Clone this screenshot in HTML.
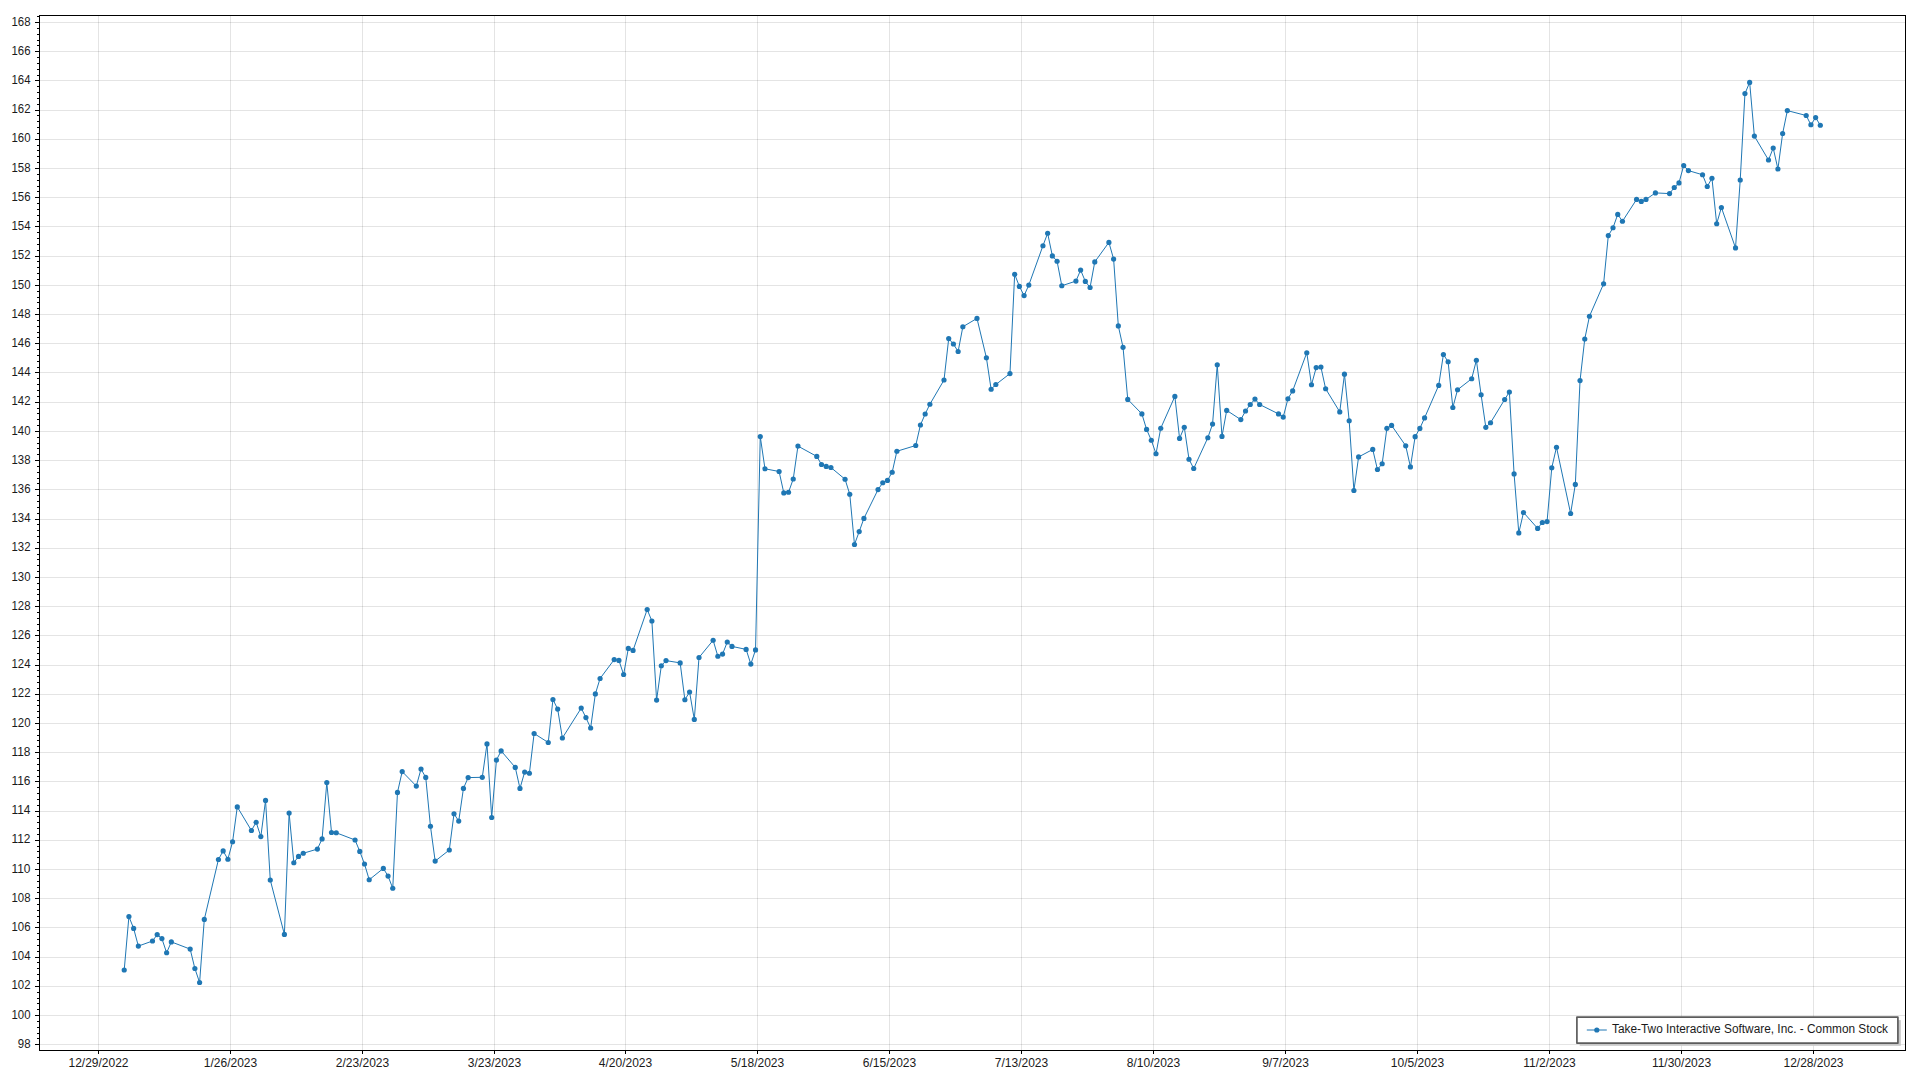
<!DOCTYPE html>
<html lang="en"><head><meta charset="utf-8"><title>Take-Two Interactive Software, Inc. - Common Stock</title>
<style>html,body{margin:0;padding:0;background:#fff;overflow:hidden}svg{display:block}text{font-family:"Liberation Sans",Arial,sans-serif;font-size:12px;fill:#1a1a1a}</style></head><body>
<svg width="1920" height="1080" viewBox="0 0 1920 1080">
<rect width="1920" height="1080" fill="#fff"/>
<path d="M40.0 1044.5H1905.0M40.0 1015.5H1905.0M40.0 986.5H1905.0M40.0 957.5H1905.0M40.0 927.5H1905.0M40.0 898.5H1905.0M40.0 869.5H1905.0M40.0 840.5H1905.0M40.0 811.5H1905.0M40.0 781.5H1905.0M40.0 752.5H1905.0M40.0 723.5H1905.0M40.0 694.5H1905.0M40.0 665.5H1905.0M40.0 635.5H1905.0M40.0 606.5H1905.0M40.0 577.5H1905.0M40.0 548.5H1905.0M40.0 519.5H1905.0M40.0 489.5H1905.0M40.0 460.5H1905.0M40.0 431.5H1905.0M40.0 402.5H1905.0M40.0 372.5H1905.0M40.0 343.5H1905.0M40.0 314.5H1905.0M40.0 285.5H1905.0M40.0 256.5H1905.0M40.0 226.5H1905.0M40.0 197.5H1905.0M40.0 168.5H1905.0M40.0 139.5H1905.0M40.0 110.5H1905.0M40.0 80.5H1905.0M40.0 51.5H1905.0M40.0 22.5H1905.0" stroke="rgba(0,0,0,0.105)" stroke-width="1" fill="none" shape-rendering="crispEdges"/>
<path d="M98.5 16.0V1050.0M230.5 16.0V1050.0M362.5 16.0V1050.0M494.5 16.0V1050.0M625.5 16.0V1050.0M757.5 16.0V1050.0M889.5 16.0V1050.0M1021.5 16.0V1050.0M1153.5 16.0V1050.0M1285.5 16.0V1050.0M1417.5 16.0V1050.0M1549.5 16.0V1050.0M1681.5 16.0V1050.0M1813.5 16.0V1050.0" stroke="rgba(0,0,0,0.105)" stroke-width="1" fill="none" shape-rendering="crispEdges"/>
<polyline points="124.21,970.00 128.92,916.60 133.64,928.40 138.35,946.10 152.48,941.00 157.19,934.60 161.90,938.60 166.62,952.75 171.33,941.90 190.17,949.10 194.88,968.50 199.60,982.50 204.31,919.40 218.44,859.50 223.15,850.90 227.86,859.25 232.58,841.75 237.29,806.90 251.42,830.50 256.13,822.25 260.84,836.60 265.56,800.40 270.27,880.00 284.40,934.40 289.11,813.10 293.82,862.75 298.54,856.40 303.25,853.25 317.38,849.10 322.09,838.90 326.80,782.50 331.52,832.50 336.23,832.75 355.07,840.00 359.78,851.40 364.50,864.00 369.21,879.75 383.34,868.40 388.05,876.10 392.76,888.25 397.48,792.40 402.19,771.60 416.32,786.05 421.03,769.00 425.74,777.40 430.46,826.25 435.17,861.10 449.30,850.00 454.01,813.75 458.72,821.10 463.44,788.40 468.15,777.60 482.28,777.30 486.99,743.90 491.70,817.50 496.42,760.10 501.13,750.90 515.26,767.40 519.97,788.40 524.68,772.05 529.40,773.25 534.11,733.50 548.24,742.50 552.95,699.50 557.66,709.10 562.38,738.00 581.22,708.10 585.93,717.60 590.64,728.00 595.36,693.90 600.07,678.50 614.20,659.60 618.91,660.40 623.62,674.50 628.34,648.40 633.05,650.40 647.18,609.50 651.89,621.00 656.60,700.10 661.32,665.75 666.03,660.60 680.16,662.90 684.87,699.75 689.58,692.00 694.30,719.40 699.01,657.50 713.14,640.25 717.85,656.25 722.56,654.10 727.28,642.00 731.99,646.40 746.12,649.40 750.83,664.10 755.54,649.90 760.26,436.60 764.97,468.75 779.10,471.50 783.81,492.90 788.52,492.25 793.24,479.00 797.95,446.10 816.79,456.40 821.50,464.50 826.22,466.40 830.93,467.50 845.06,479.25 849.77,494.25 854.48,544.50 859.20,531.60 863.91,518.40 878.04,489.60 882.75,482.75 887.46,480.40 892.18,472.25 896.89,451.25 915.73,445.50 920.44,425.00 925.16,414.00 929.87,404.25 944.00,380.00 948.71,338.60 953.42,344.00 958.14,351.50 962.85,326.75 976.98,318.40 986.40,357.75 991.12,389.25 995.83,384.50 1009.96,373.60 1014.67,274.25 1019.38,286.40 1024.10,295.60 1028.81,285.10 1042.94,245.75 1047.65,233.25 1052.36,255.90 1057.08,261.25 1061.79,285.75 1075.92,281.10 1080.63,270.10 1085.34,281.40 1090.06,287.50 1094.77,261.90 1108.90,242.40 1113.61,259.10 1118.32,325.90 1123.04,347.30 1127.75,399.40 1141.88,413.90 1146.59,429.40 1151.30,440.25 1156.02,453.75 1160.73,428.25 1174.86,396.40 1179.57,438.40 1184.28,427.25 1189.00,459.25 1193.71,468.50 1207.84,437.75 1212.55,424.10 1217.26,364.75 1221.98,436.40 1226.69,410.40 1240.82,419.60 1245.53,411.00 1250.24,404.50 1254.96,399.10 1259.67,404.50 1278.51,413.90 1283.22,417.10 1287.94,398.75 1292.65,390.90 1306.78,352.75 1311.49,384.75 1316.20,367.60 1320.92,367.00 1325.63,388.75 1339.76,411.90 1344.47,374.20 1349.18,420.75 1353.90,490.50 1358.61,456.95 1372.74,449.45 1377.45,469.50 1382.16,463.75 1386.88,428.30 1391.59,425.40 1405.72,445.80 1410.43,466.95 1415.14,436.70 1419.86,428.40 1424.57,417.90 1438.70,385.40 1443.41,354.50 1448.12,361.75 1452.84,407.50 1457.55,389.75 1471.68,378.75 1476.39,360.25 1481.10,394.75 1485.82,427.30 1490.53,422.75 1504.66,399.50 1509.37,392.00 1514.08,473.95 1518.80,532.90 1523.51,512.50 1537.64,528.40 1542.35,522.50 1547.06,521.60 1551.78,467.75 1556.49,447.25 1570.62,513.50 1575.33,484.40 1580.04,380.60 1584.76,339.00 1589.47,316.25 1603.60,283.80 1608.31,235.60 1613.02,227.75 1617.74,214.40 1622.45,221.25 1636.58,199.40 1641.29,201.40 1646.00,199.40 1655.43,192.90 1669.56,193.60 1674.27,187.50 1678.98,182.90 1683.70,165.50 1688.41,170.60 1702.54,174.75 1707.25,186.50 1711.96,178.25 1716.68,223.75 1721.39,207.50 1735.52,247.90 1740.23,180.00 1744.94,93.60 1749.66,82.40 1754.37,136.10 1768.50,160.00 1773.21,148.00 1777.92,169.00 1782.64,133.50 1787.35,110.60 1806.19,115.50 1810.90,124.75 1815.62,117.60 1820.33,125.25" fill="none" stroke="#1f77b4" stroke-width="1" stroke-linejoin="bevel"/>
<g fill="#1f77b4"><circle cx="124.21" cy="970.00" r="2.6"/><circle cx="128.92" cy="916.60" r="2.6"/><circle cx="133.64" cy="928.40" r="2.6"/><circle cx="138.35" cy="946.10" r="2.6"/><circle cx="152.48" cy="941.00" r="2.6"/><circle cx="157.19" cy="934.60" r="2.6"/><circle cx="161.90" cy="938.60" r="2.6"/><circle cx="166.62" cy="952.75" r="2.6"/><circle cx="171.33" cy="941.90" r="2.6"/><circle cx="190.17" cy="949.10" r="2.6"/><circle cx="194.88" cy="968.50" r="2.6"/><circle cx="199.60" cy="982.50" r="2.6"/><circle cx="204.31" cy="919.40" r="2.6"/><circle cx="218.44" cy="859.50" r="2.6"/><circle cx="223.15" cy="850.90" r="2.6"/><circle cx="227.86" cy="859.25" r="2.6"/><circle cx="232.58" cy="841.75" r="2.6"/><circle cx="237.29" cy="806.90" r="2.6"/><circle cx="251.42" cy="830.50" r="2.6"/><circle cx="256.13" cy="822.25" r="2.6"/><circle cx="260.84" cy="836.60" r="2.6"/><circle cx="265.56" cy="800.40" r="2.6"/><circle cx="270.27" cy="880.00" r="2.6"/><circle cx="284.40" cy="934.40" r="2.6"/><circle cx="289.11" cy="813.10" r="2.6"/><circle cx="293.82" cy="862.75" r="2.6"/><circle cx="298.54" cy="856.40" r="2.6"/><circle cx="303.25" cy="853.25" r="2.6"/><circle cx="317.38" cy="849.10" r="2.6"/><circle cx="322.09" cy="838.90" r="2.6"/><circle cx="326.80" cy="782.50" r="2.6"/><circle cx="331.52" cy="832.50" r="2.6"/><circle cx="336.23" cy="832.75" r="2.6"/><circle cx="355.07" cy="840.00" r="2.6"/><circle cx="359.78" cy="851.40" r="2.6"/><circle cx="364.50" cy="864.00" r="2.6"/><circle cx="369.21" cy="879.75" r="2.6"/><circle cx="383.34" cy="868.40" r="2.6"/><circle cx="388.05" cy="876.10" r="2.6"/><circle cx="392.76" cy="888.25" r="2.6"/><circle cx="397.48" cy="792.40" r="2.6"/><circle cx="402.19" cy="771.60" r="2.6"/><circle cx="416.32" cy="786.05" r="2.6"/><circle cx="421.03" cy="769.00" r="2.6"/><circle cx="425.74" cy="777.40" r="2.6"/><circle cx="430.46" cy="826.25" r="2.6"/><circle cx="435.17" cy="861.10" r="2.6"/><circle cx="449.30" cy="850.00" r="2.6"/><circle cx="454.01" cy="813.75" r="2.6"/><circle cx="458.72" cy="821.10" r="2.6"/><circle cx="463.44" cy="788.40" r="2.6"/><circle cx="468.15" cy="777.60" r="2.6"/><circle cx="482.28" cy="777.30" r="2.6"/><circle cx="486.99" cy="743.90" r="2.6"/><circle cx="491.70" cy="817.50" r="2.6"/><circle cx="496.42" cy="760.10" r="2.6"/><circle cx="501.13" cy="750.90" r="2.6"/><circle cx="515.26" cy="767.40" r="2.6"/><circle cx="519.97" cy="788.40" r="2.6"/><circle cx="524.68" cy="772.05" r="2.6"/><circle cx="529.40" cy="773.25" r="2.6"/><circle cx="534.11" cy="733.50" r="2.6"/><circle cx="548.24" cy="742.50" r="2.6"/><circle cx="552.95" cy="699.50" r="2.6"/><circle cx="557.66" cy="709.10" r="2.6"/><circle cx="562.38" cy="738.00" r="2.6"/><circle cx="581.22" cy="708.10" r="2.6"/><circle cx="585.93" cy="717.60" r="2.6"/><circle cx="590.64" cy="728.00" r="2.6"/><circle cx="595.36" cy="693.90" r="2.6"/><circle cx="600.07" cy="678.50" r="2.6"/><circle cx="614.20" cy="659.60" r="2.6"/><circle cx="618.91" cy="660.40" r="2.6"/><circle cx="623.62" cy="674.50" r="2.6"/><circle cx="628.34" cy="648.40" r="2.6"/><circle cx="633.05" cy="650.40" r="2.6"/><circle cx="647.18" cy="609.50" r="2.6"/><circle cx="651.89" cy="621.00" r="2.6"/><circle cx="656.60" cy="700.10" r="2.6"/><circle cx="661.32" cy="665.75" r="2.6"/><circle cx="666.03" cy="660.60" r="2.6"/><circle cx="680.16" cy="662.90" r="2.6"/><circle cx="684.87" cy="699.75" r="2.6"/><circle cx="689.58" cy="692.00" r="2.6"/><circle cx="694.30" cy="719.40" r="2.6"/><circle cx="699.01" cy="657.50" r="2.6"/><circle cx="713.14" cy="640.25" r="2.6"/><circle cx="717.85" cy="656.25" r="2.6"/><circle cx="722.56" cy="654.10" r="2.6"/><circle cx="727.28" cy="642.00" r="2.6"/><circle cx="731.99" cy="646.40" r="2.6"/><circle cx="746.12" cy="649.40" r="2.6"/><circle cx="750.83" cy="664.10" r="2.6"/><circle cx="755.54" cy="649.90" r="2.6"/><circle cx="760.26" cy="436.60" r="2.6"/><circle cx="764.97" cy="468.75" r="2.6"/><circle cx="779.10" cy="471.50" r="2.6"/><circle cx="783.81" cy="492.90" r="2.6"/><circle cx="788.52" cy="492.25" r="2.6"/><circle cx="793.24" cy="479.00" r="2.6"/><circle cx="797.95" cy="446.10" r="2.6"/><circle cx="816.79" cy="456.40" r="2.6"/><circle cx="821.50" cy="464.50" r="2.6"/><circle cx="826.22" cy="466.40" r="2.6"/><circle cx="830.93" cy="467.50" r="2.6"/><circle cx="845.06" cy="479.25" r="2.6"/><circle cx="849.77" cy="494.25" r="2.6"/><circle cx="854.48" cy="544.50" r="2.6"/><circle cx="859.20" cy="531.60" r="2.6"/><circle cx="863.91" cy="518.40" r="2.6"/><circle cx="878.04" cy="489.60" r="2.6"/><circle cx="882.75" cy="482.75" r="2.6"/><circle cx="887.46" cy="480.40" r="2.6"/><circle cx="892.18" cy="472.25" r="2.6"/><circle cx="896.89" cy="451.25" r="2.6"/><circle cx="915.73" cy="445.50" r="2.6"/><circle cx="920.44" cy="425.00" r="2.6"/><circle cx="925.16" cy="414.00" r="2.6"/><circle cx="929.87" cy="404.25" r="2.6"/><circle cx="944.00" cy="380.00" r="2.6"/><circle cx="948.71" cy="338.60" r="2.6"/><circle cx="953.42" cy="344.00" r="2.6"/><circle cx="958.14" cy="351.50" r="2.6"/><circle cx="962.85" cy="326.75" r="2.6"/><circle cx="976.98" cy="318.40" r="2.6"/><circle cx="986.40" cy="357.75" r="2.6"/><circle cx="991.12" cy="389.25" r="2.6"/><circle cx="995.83" cy="384.50" r="2.6"/><circle cx="1009.96" cy="373.60" r="2.6"/><circle cx="1014.67" cy="274.25" r="2.6"/><circle cx="1019.38" cy="286.40" r="2.6"/><circle cx="1024.10" cy="295.60" r="2.6"/><circle cx="1028.81" cy="285.10" r="2.6"/><circle cx="1042.94" cy="245.75" r="2.6"/><circle cx="1047.65" cy="233.25" r="2.6"/><circle cx="1052.36" cy="255.90" r="2.6"/><circle cx="1057.08" cy="261.25" r="2.6"/><circle cx="1061.79" cy="285.75" r="2.6"/><circle cx="1075.92" cy="281.10" r="2.6"/><circle cx="1080.63" cy="270.10" r="2.6"/><circle cx="1085.34" cy="281.40" r="2.6"/><circle cx="1090.06" cy="287.50" r="2.6"/><circle cx="1094.77" cy="261.90" r="2.6"/><circle cx="1108.90" cy="242.40" r="2.6"/><circle cx="1113.61" cy="259.10" r="2.6"/><circle cx="1118.32" cy="325.90" r="2.6"/><circle cx="1123.04" cy="347.30" r="2.6"/><circle cx="1127.75" cy="399.40" r="2.6"/><circle cx="1141.88" cy="413.90" r="2.6"/><circle cx="1146.59" cy="429.40" r="2.6"/><circle cx="1151.30" cy="440.25" r="2.6"/><circle cx="1156.02" cy="453.75" r="2.6"/><circle cx="1160.73" cy="428.25" r="2.6"/><circle cx="1174.86" cy="396.40" r="2.6"/><circle cx="1179.57" cy="438.40" r="2.6"/><circle cx="1184.28" cy="427.25" r="2.6"/><circle cx="1189.00" cy="459.25" r="2.6"/><circle cx="1193.71" cy="468.50" r="2.6"/><circle cx="1207.84" cy="437.75" r="2.6"/><circle cx="1212.55" cy="424.10" r="2.6"/><circle cx="1217.26" cy="364.75" r="2.6"/><circle cx="1221.98" cy="436.40" r="2.6"/><circle cx="1226.69" cy="410.40" r="2.6"/><circle cx="1240.82" cy="419.60" r="2.6"/><circle cx="1245.53" cy="411.00" r="2.6"/><circle cx="1250.24" cy="404.50" r="2.6"/><circle cx="1254.96" cy="399.10" r="2.6"/><circle cx="1259.67" cy="404.50" r="2.6"/><circle cx="1278.51" cy="413.90" r="2.6"/><circle cx="1283.22" cy="417.10" r="2.6"/><circle cx="1287.94" cy="398.75" r="2.6"/><circle cx="1292.65" cy="390.90" r="2.6"/><circle cx="1306.78" cy="352.75" r="2.6"/><circle cx="1311.49" cy="384.75" r="2.6"/><circle cx="1316.20" cy="367.60" r="2.6"/><circle cx="1320.92" cy="367.00" r="2.6"/><circle cx="1325.63" cy="388.75" r="2.6"/><circle cx="1339.76" cy="411.90" r="2.6"/><circle cx="1344.47" cy="374.20" r="2.6"/><circle cx="1349.18" cy="420.75" r="2.6"/><circle cx="1353.90" cy="490.50" r="2.6"/><circle cx="1358.61" cy="456.95" r="2.6"/><circle cx="1372.74" cy="449.45" r="2.6"/><circle cx="1377.45" cy="469.50" r="2.6"/><circle cx="1382.16" cy="463.75" r="2.6"/><circle cx="1386.88" cy="428.30" r="2.6"/><circle cx="1391.59" cy="425.40" r="2.6"/><circle cx="1405.72" cy="445.80" r="2.6"/><circle cx="1410.43" cy="466.95" r="2.6"/><circle cx="1415.14" cy="436.70" r="2.6"/><circle cx="1419.86" cy="428.40" r="2.6"/><circle cx="1424.57" cy="417.90" r="2.6"/><circle cx="1438.70" cy="385.40" r="2.6"/><circle cx="1443.41" cy="354.50" r="2.6"/><circle cx="1448.12" cy="361.75" r="2.6"/><circle cx="1452.84" cy="407.50" r="2.6"/><circle cx="1457.55" cy="389.75" r="2.6"/><circle cx="1471.68" cy="378.75" r="2.6"/><circle cx="1476.39" cy="360.25" r="2.6"/><circle cx="1481.10" cy="394.75" r="2.6"/><circle cx="1485.82" cy="427.30" r="2.6"/><circle cx="1490.53" cy="422.75" r="2.6"/><circle cx="1504.66" cy="399.50" r="2.6"/><circle cx="1509.37" cy="392.00" r="2.6"/><circle cx="1514.08" cy="473.95" r="2.6"/><circle cx="1518.80" cy="532.90" r="2.6"/><circle cx="1523.51" cy="512.50" r="2.6"/><circle cx="1537.64" cy="528.40" r="2.6"/><circle cx="1542.35" cy="522.50" r="2.6"/><circle cx="1547.06" cy="521.60" r="2.6"/><circle cx="1551.78" cy="467.75" r="2.6"/><circle cx="1556.49" cy="447.25" r="2.6"/><circle cx="1570.62" cy="513.50" r="2.6"/><circle cx="1575.33" cy="484.40" r="2.6"/><circle cx="1580.04" cy="380.60" r="2.6"/><circle cx="1584.76" cy="339.00" r="2.6"/><circle cx="1589.47" cy="316.25" r="2.6"/><circle cx="1603.60" cy="283.80" r="2.6"/><circle cx="1608.31" cy="235.60" r="2.6"/><circle cx="1613.02" cy="227.75" r="2.6"/><circle cx="1617.74" cy="214.40" r="2.6"/><circle cx="1622.45" cy="221.25" r="2.6"/><circle cx="1636.58" cy="199.40" r="2.6"/><circle cx="1641.29" cy="201.40" r="2.6"/><circle cx="1646.00" cy="199.40" r="2.6"/><circle cx="1655.43" cy="192.90" r="2.6"/><circle cx="1669.56" cy="193.60" r="2.6"/><circle cx="1674.27" cy="187.50" r="2.6"/><circle cx="1678.98" cy="182.90" r="2.6"/><circle cx="1683.70" cy="165.50" r="2.6"/><circle cx="1688.41" cy="170.60" r="2.6"/><circle cx="1702.54" cy="174.75" r="2.6"/><circle cx="1707.25" cy="186.50" r="2.6"/><circle cx="1711.96" cy="178.25" r="2.6"/><circle cx="1716.68" cy="223.75" r="2.6"/><circle cx="1721.39" cy="207.50" r="2.6"/><circle cx="1735.52" cy="247.90" r="2.6"/><circle cx="1740.23" cy="180.00" r="2.6"/><circle cx="1744.94" cy="93.60" r="2.6"/><circle cx="1749.66" cy="82.40" r="2.6"/><circle cx="1754.37" cy="136.10" r="2.6"/><circle cx="1768.50" cy="160.00" r="2.6"/><circle cx="1773.21" cy="148.00" r="2.6"/><circle cx="1777.92" cy="169.00" r="2.6"/><circle cx="1782.64" cy="133.50" r="2.6"/><circle cx="1787.35" cy="110.60" r="2.6"/><circle cx="1806.19" cy="115.50" r="2.6"/><circle cx="1810.90" cy="124.75" r="2.6"/><circle cx="1815.62" cy="117.60" r="2.6"/><circle cx="1820.33" cy="125.25" r="2.6"/></g>
<path d="M34.5 1044.5H39.5M36.5 1038.5H39.5M36.5 1033.5H39.5M36.5 1027.5H39.5M36.5 1021.5H39.5M34.5 1015.5H39.5M36.5 1009.5H39.5M36.5 1003.5H39.5M36.5 998.5H39.5M36.5 992.5H39.5M34.5 986.5H39.5M36.5 980.5H39.5M36.5 974.5H39.5M36.5 968.5H39.5M36.5 962.5H39.5M34.5 957.5H39.5M36.5 951.5H39.5M36.5 945.5H39.5M36.5 939.5H39.5M36.5 933.5H39.5M34.5 927.5H39.5M36.5 922.5H39.5M36.5 916.5H39.5M36.5 910.5H39.5M36.5 904.5H39.5M34.5 898.5H39.5M36.5 892.5H39.5M36.5 887.5H39.5M36.5 881.5H39.5M36.5 875.5H39.5M34.5 869.5H39.5M36.5 863.5H39.5M36.5 857.5H39.5M36.5 851.5H39.5M36.5 846.5H39.5M34.5 840.5H39.5M36.5 834.5H39.5M36.5 828.5H39.5M36.5 822.5H39.5M36.5 816.5H39.5M34.5 811.5H39.5M36.5 805.5H39.5M36.5 799.5H39.5M36.5 793.5H39.5M36.5 787.5H39.5M34.5 781.5H39.5M36.5 776.5H39.5M36.5 770.5H39.5M36.5 764.5H39.5M36.5 758.5H39.5M34.5 752.5H39.5M36.5 746.5H39.5M36.5 740.5H39.5M36.5 735.5H39.5M36.5 729.5H39.5M34.5 723.5H39.5M36.5 717.5H39.5M36.5 711.5H39.5M36.5 705.5H39.5M36.5 700.5H39.5M34.5 694.5H39.5M36.5 688.5H39.5M36.5 682.5H39.5M36.5 676.5H39.5M36.5 670.5H39.5M34.5 665.5H39.5M36.5 659.5H39.5M36.5 653.5H39.5M36.5 647.5H39.5M36.5 641.5H39.5M34.5 635.5H39.5M36.5 630.5H39.5M36.5 624.5H39.5M36.5 618.5H39.5M36.5 612.5H39.5M34.5 606.5H39.5M36.5 600.5H39.5M36.5 594.5H39.5M36.5 589.5H39.5M36.5 583.5H39.5M34.5 577.5H39.5M36.5 571.5H39.5M36.5 565.5H39.5M36.5 559.5H39.5M36.5 554.5H39.5M34.5 548.5H39.5M36.5 542.5H39.5M36.5 536.5H39.5M36.5 530.5H39.5M36.5 524.5H39.5M34.5 519.5H39.5M36.5 513.5H39.5M36.5 507.5H39.5M36.5 501.5H39.5M36.5 495.5H39.5M34.5 489.5H39.5M36.5 483.5H39.5M36.5 478.5H39.5M36.5 472.5H39.5M36.5 466.5H39.5M34.5 460.5H39.5M36.5 454.5H39.5M36.5 448.5H39.5M36.5 443.5H39.5M36.5 437.5H39.5M34.5 431.5H39.5M36.5 425.5H39.5M36.5 419.5H39.5M36.5 413.5H39.5M36.5 408.5H39.5M34.5 402.5H39.5M36.5 396.5H39.5M36.5 390.5H39.5M36.5 384.5H39.5M36.5 378.5H39.5M34.5 372.5H39.5M36.5 367.5H39.5M36.5 361.5H39.5M36.5 355.5H39.5M36.5 349.5H39.5M34.5 343.5H39.5M36.5 337.5H39.5M36.5 332.5H39.5M36.5 326.5H39.5M36.5 320.5H39.5M34.5 314.5H39.5M36.5 308.5H39.5M36.5 302.5H39.5M36.5 297.5H39.5M36.5 291.5H39.5M34.5 285.5H39.5M36.5 279.5H39.5M36.5 273.5H39.5M36.5 267.5H39.5M36.5 261.5H39.5M34.5 256.5H39.5M36.5 250.5H39.5M36.5 244.5H39.5M36.5 238.5H39.5M36.5 232.5H39.5M34.5 226.5H39.5M36.5 221.5H39.5M36.5 215.5H39.5M36.5 209.5H39.5M36.5 203.5H39.5M34.5 197.5H39.5M36.5 191.5H39.5M36.5 186.5H39.5M36.5 180.5H39.5M36.5 174.5H39.5M34.5 168.5H39.5M36.5 162.5H39.5M36.5 156.5H39.5M36.5 150.5H39.5M36.5 145.5H39.5M34.5 139.5H39.5M36.5 133.5H39.5M36.5 127.5H39.5M36.5 121.5H39.5M36.5 115.5H39.5M34.5 110.5H39.5M36.5 104.5H39.5M36.5 98.5H39.5M36.5 92.5H39.5M36.5 86.5H39.5M34.5 80.5H39.5M36.5 75.5H39.5M36.5 69.5H39.5M36.5 63.5H39.5M36.5 57.5H39.5M34.5 51.5H39.5M36.5 45.5H39.5M36.5 40.5H39.5M36.5 34.5H39.5M36.5 28.5H39.5M34.5 22.5H39.5M36.5 16.5H39.5M98.5 1050.5V1054.0M230.5 1050.5V1054.0M362.5 1050.5V1054.0M494.5 1050.5V1054.0M625.5 1050.5V1054.0M757.5 1050.5V1054.0M889.5 1050.5V1054.0M1021.5 1050.5V1054.0M1153.5 1050.5V1054.0M1285.5 1050.5V1054.0M1417.5 1050.5V1054.0M1549.5 1050.5V1054.0M1681.5 1050.5V1054.0M1813.5 1050.5V1054.0" stroke="#000" stroke-width="1" fill="none" shape-rendering="crispEdges"/>
<rect x="39.5" y="15.5" width="1866.0" height="1035.0" fill="none" stroke="#000" stroke-width="1" shape-rendering="crispEdges"/>
<text x="30.5" y="1047.9" text-anchor="end" textLength="12.7" lengthAdjust="spacingAndGlyphs">98</text>
<text x="30.5" y="1018.7" text-anchor="end" textLength="19.0" lengthAdjust="spacingAndGlyphs">100</text>
<text x="30.5" y="989.4" text-anchor="end" textLength="19.0" lengthAdjust="spacingAndGlyphs">102</text>
<text x="30.5" y="960.2" text-anchor="end" textLength="19.0" lengthAdjust="spacingAndGlyphs">104</text>
<text x="30.5" y="931.0" text-anchor="end" textLength="19.0" lengthAdjust="spacingAndGlyphs">106</text>
<text x="30.5" y="901.8" text-anchor="end" textLength="19.0" lengthAdjust="spacingAndGlyphs">108</text>
<text x="30.5" y="872.6" text-anchor="end" textLength="19.0" lengthAdjust="spacingAndGlyphs">110</text>
<text x="30.5" y="843.4" text-anchor="end" textLength="19.0" lengthAdjust="spacingAndGlyphs">112</text>
<text x="30.5" y="814.2" text-anchor="end" textLength="19.0" lengthAdjust="spacingAndGlyphs">114</text>
<text x="30.5" y="785.0" text-anchor="end" textLength="19.0" lengthAdjust="spacingAndGlyphs">116</text>
<text x="30.5" y="755.8" text-anchor="end" textLength="19.0" lengthAdjust="spacingAndGlyphs">118</text>
<text x="30.5" y="726.6" text-anchor="end" textLength="19.0" lengthAdjust="spacingAndGlyphs">120</text>
<text x="30.5" y="697.4" text-anchor="end" textLength="19.0" lengthAdjust="spacingAndGlyphs">122</text>
<text x="30.5" y="668.2" text-anchor="end" textLength="19.0" lengthAdjust="spacingAndGlyphs">124</text>
<text x="30.5" y="638.9" text-anchor="end" textLength="19.0" lengthAdjust="spacingAndGlyphs">126</text>
<text x="30.5" y="609.7" text-anchor="end" textLength="19.0" lengthAdjust="spacingAndGlyphs">128</text>
<text x="30.5" y="580.5" text-anchor="end" textLength="19.0" lengthAdjust="spacingAndGlyphs">130</text>
<text x="30.5" y="551.3" text-anchor="end" textLength="19.0" lengthAdjust="spacingAndGlyphs">132</text>
<text x="30.5" y="522.1" text-anchor="end" textLength="19.0" lengthAdjust="spacingAndGlyphs">134</text>
<text x="30.5" y="492.9" text-anchor="end" textLength="19.0" lengthAdjust="spacingAndGlyphs">136</text>
<text x="30.5" y="463.7" text-anchor="end" textLength="19.0" lengthAdjust="spacingAndGlyphs">138</text>
<text x="30.5" y="434.5" text-anchor="end" textLength="19.0" lengthAdjust="spacingAndGlyphs">140</text>
<text x="30.5" y="405.3" text-anchor="end" textLength="19.0" lengthAdjust="spacingAndGlyphs">142</text>
<text x="30.5" y="376.1" text-anchor="end" textLength="19.0" lengthAdjust="spacingAndGlyphs">144</text>
<text x="30.5" y="346.9" text-anchor="end" textLength="19.0" lengthAdjust="spacingAndGlyphs">146</text>
<text x="30.5" y="317.7" text-anchor="end" textLength="19.0" lengthAdjust="spacingAndGlyphs">148</text>
<text x="30.5" y="288.5" text-anchor="end" textLength="19.0" lengthAdjust="spacingAndGlyphs">150</text>
<text x="30.5" y="259.2" text-anchor="end" textLength="19.0" lengthAdjust="spacingAndGlyphs">152</text>
<text x="30.5" y="230.0" text-anchor="end" textLength="19.0" lengthAdjust="spacingAndGlyphs">154</text>
<text x="30.5" y="200.8" text-anchor="end" textLength="19.0" lengthAdjust="spacingAndGlyphs">156</text>
<text x="30.5" y="171.6" text-anchor="end" textLength="19.0" lengthAdjust="spacingAndGlyphs">158</text>
<text x="30.5" y="142.4" text-anchor="end" textLength="19.0" lengthAdjust="spacingAndGlyphs">160</text>
<text x="30.5" y="113.2" text-anchor="end" textLength="19.0" lengthAdjust="spacingAndGlyphs">162</text>
<text x="30.5" y="84.0" text-anchor="end" textLength="19.0" lengthAdjust="spacingAndGlyphs">164</text>
<text x="30.5" y="54.8" text-anchor="end" textLength="19.0" lengthAdjust="spacingAndGlyphs">166</text>
<text x="30.5" y="25.6" text-anchor="end" textLength="19.0" lengthAdjust="spacingAndGlyphs">168</text>
<text x="98.5" y="1067" text-anchor="middle">12/29/2022</text>
<text x="230.5" y="1067" text-anchor="middle">1/26/2023</text>
<text x="362.5" y="1067" text-anchor="middle">2/23/2023</text>
<text x="494.5" y="1067" text-anchor="middle">3/23/2023</text>
<text x="625.5" y="1067" text-anchor="middle">4/20/2023</text>
<text x="757.5" y="1067" text-anchor="middle">5/18/2023</text>
<text x="889.5" y="1067" text-anchor="middle">6/15/2023</text>
<text x="1021.5" y="1067" text-anchor="middle">7/13/2023</text>
<text x="1153.5" y="1067" text-anchor="middle">8/10/2023</text>
<text x="1285.5" y="1067" text-anchor="middle">9/7/2023</text>
<text x="1417.5" y="1067" text-anchor="middle">10/5/2023</text>
<text x="1549.5" y="1067" text-anchor="middle">11/2/2023</text>
<text x="1681.5" y="1067" text-anchor="middle">11/30/2023</text>
<text x="1813.5" y="1067" text-anchor="middle">12/28/2023</text>
<rect x="1579.7" y="1020.1" width="321.1" height="25.7" fill="#c8c8c8"/>
<rect x="1576.9" y="1017.2" width="321" height="25.9" fill="#fff" stroke="#5c5c5c" stroke-width="1.7" stroke-linejoin="round"/>
<path d="M1586.8 1030H1606.8" stroke="#1f77b4" stroke-width="1"/>
<circle cx="1596.8" cy="1030" r="2.6" fill="#1f77b4"/>
<text x="1612" y="1033" textLength="276" lengthAdjust="spacingAndGlyphs">Take-Two Interactive Software, Inc. - Common Stock</text>
</svg></body></html>
